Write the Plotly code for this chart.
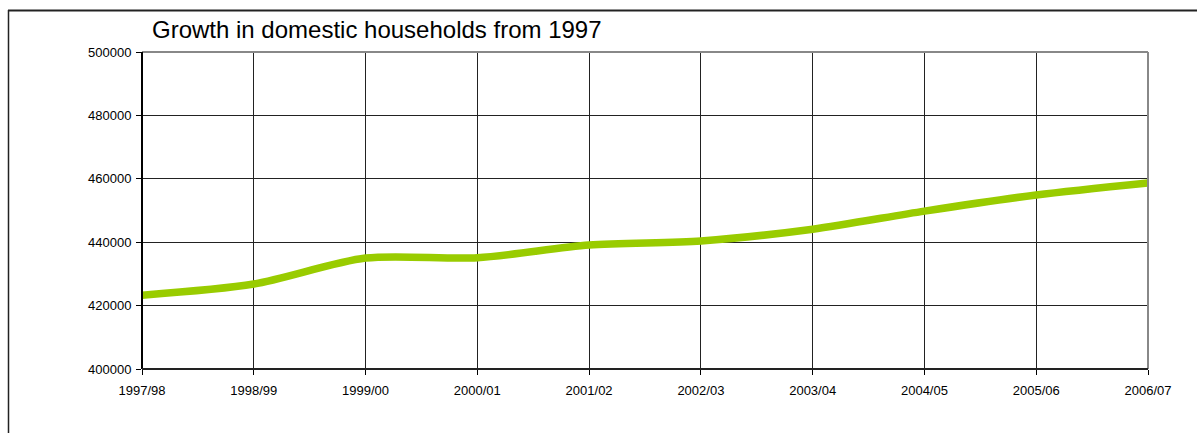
import plotly.graph_objects as go

# Financial years and household counts
years = ["1997/98", "1998/99", "1999/00", "2000/01", "2001/02",
         "2002/03", "2003/04", "2004/05", "2005/06", "2006/07"]
households = [423300, 426800, 435000, 435100, 439100,
              440400, 444100, 449800, 454900, 458700]

y_ticks = [400000, 420000, 440000, 460000, 480000, 500000]

fig = go.Figure()
fig.add_trace(go.Scatter(
    x=list(range(len(years))),
    y=households,
    mode="lines",
    line=dict(color="#99CC00", width=7.5, shape="spline", smoothing=0.8),
    hoverinfo="skip",
    showlegend=False,
))

W, H = 1197, 433
L, R, T, B = 142, 49, 52, 64
pw, ph = W - L - R, H - T - B


def px_x(p):
    return (p - L) / pw


def px_y(p):
    return (H - B - p) / ph


FONT = "Liberation Sans, Arial, sans-serif"

fig.update_layout(
    width=W, height=H,
    margin=dict(l=L, r=R, t=T, b=B),
    paper_bgcolor="white",
    plot_bgcolor="white",
    font=dict(family=FONT, size=13, color="black"),
    xaxis=dict(
        tickmode="array",
        tickvals=list(range(len(years))),
        ticktext=years,
        range=[0, len(years) - 1],
        showgrid=True, gridcolor="#222222", gridwidth=1,
        zeroline=False,
        showline=False,
        ticks="outside", ticklen=5, tickcolor="black",
        tickfont=dict(size=13),
        ticklabelstandoff=4,
        fixedrange=True,
    ),
    yaxis=dict(
        range=[400000, 500000],
        tickmode="array",
        tickvals=y_ticks,
        ticktext=[str(v) for v in y_ticks],
        showgrid=True, gridcolor="#222222", gridwidth=1,
        zeroline=False,
        showline=False,
        ticks="outside", ticklen=5, tickcolor="black",
        tickfont=dict(size=13),
        ticklabelstandoff=2,
        fixedrange=True,
    ),
    shapes=[
        # plot area border: grey top/right, black left/bottom
        dict(type="line", xref="paper", yref="paper", x0=0, x1=1, y0=1, y1=1,
             line=dict(color="#888888", width=2)),
        dict(type="line", xref="paper", yref="paper", x0=1, x1=1, y0=0, y1=1,
             line=dict(color="#888888", width=2)),
        dict(type="line", xref="paper", yref="paper", x0=0, x1=0, y0=0, y1=1,
             line=dict(color="black", width=2)),
        dict(type="line", xref="paper", yref="paper", x0=0, x1=1, y0=0, y1=0,
             line=dict(color="#222222", width=2)),
        # outer chart frame
        dict(type="line", xref="paper", yref="paper",
             x0=px_x(8), x1=px_x(W + 10), y0=px_y(10.5), y1=px_y(10.5),
             line=dict(color="#222222", width=2)),
        dict(type="line", xref="paper", yref="paper",
             x0=px_x(8.5), x1=px_x(8.5), y0=px_y(10), y1=px_y(H + 10),
             line=dict(color="#222222", width=1.5)),
    ],
    annotations=[
        dict(text="Growth in domestic households from 1997",
             xref="paper", yref="paper",
             x=px_x(150), y=px_y(30),
             xanchor="left", yanchor="middle",
             showarrow=False,
             font=dict(size=24, color="black", family=FONT)),
    ],
)

fig.write_html("out.html")
